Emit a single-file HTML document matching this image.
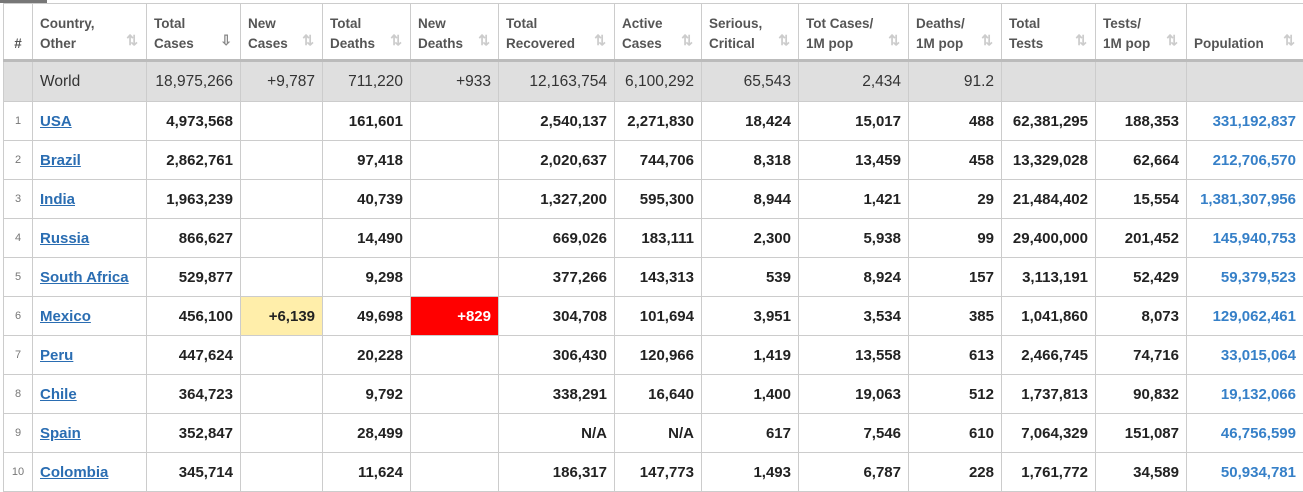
<!DOCTYPE html><html><head><style>
body{margin:0;width:1303px;height:489px;overflow:hidden;background:#fff;font-family:"Liberation Sans",Arial,sans-serif;position:relative}
.tab{position:absolute;left:0;top:0;width:47px;height:3px;background:#777}
table{position:absolute;left:3px;top:3px;border-collapse:collapse;table-layout:fixed;width:1300px}
td,th{border:1px solid #ccc;padding:0 7px;white-space:nowrap;overflow:hidden}
th{height:57px;box-sizing:border-box;text-align:left;font-size:13.5px;color:#555;font-weight:bold;line-height:20px;position:relative;border-bottom:3px solid #bbb;vertical-align:top;padding-top:10px}
th span{position:absolute;right:8px;bottom:9px;color:#ccc;font-size:14px}
td{height:38px;text-align:right;font-weight:bold;color:#222;font-size:15px}
tr.w td{background:#dfdfdf;font-weight:normal;color:#333;font-size:15.5px;height:39px}
td.n{font-size:11px;color:#777;font-weight:normal;text-align:center;padding:0}
td.c{text-align:left}
td.c a{color:#2a6db2;text-decoration:underline}
td.p{color:#3680c8}
</style></head><body><div class="tab"></div>
<table>
<colgroup><col style="width:29px"><col style="width:114px"><col style="width:94px"><col style="width:82px"><col style="width:88px"><col style="width:88px"><col style="width:116px"><col style="width:87px"><col style="width:97px"><col style="width:110px"><col style="width:93px"><col style="width:94px"><col style="width:91px"><col style="width:117px"></colgroup>
<tr><th style="text-align:center;padding:30px 0 0 0">#</th><th>Country,<br>Other<span>⇅</span></th><th>Total<br>Cases<span style="color:#888">⇩</span></th><th>New<br>Cases<span>⇅</span></th><th>Total<br>Deaths<span>⇅</span></th><th>New<br>Deaths<span>⇅</span></th><th>Total<br>Recovered<span>⇅</span></th><th>Active<br>Cases<span>⇅</span></th><th>Serious,<br>Critical<span>⇅</span></th><th>Tot Cases/<br>1M pop<span>⇅</span></th><th>Deaths/<br>1M pop<span>⇅</span></th><th>Total<br>Tests<span>⇅</span></th><th>Tests/<br>1M pop<span>⇅</span></th><th style="padding-top:30px">Population<span>⇅</span></th></tr>
<tr class="w"><td></td><td class="c">World</td><td>18,975,266</td><td>+9,787</td><td>711,220</td><td>+933</td><td>12,163,754</td><td>6,100,292</td><td>65,543</td><td>2,434</td><td>91.2</td><td></td><td></td><td></td></tr>
<tr><td class="n">1</td><td class="c"><a>USA</a></td><td>4,973,568</td><td></td><td>161,601</td><td></td><td>2,540,137</td><td>2,271,830</td><td>18,424</td><td>15,017</td><td>488</td><td>62,381,295</td><td>188,353</td><td class="p">331,192,837</td></tr>
<tr><td class="n">2</td><td class="c"><a>Brazil</a></td><td>2,862,761</td><td></td><td>97,418</td><td></td><td>2,020,637</td><td>744,706</td><td>8,318</td><td>13,459</td><td>458</td><td>13,329,028</td><td>62,664</td><td class="p">212,706,570</td></tr>
<tr><td class="n">3</td><td class="c"><a>India</a></td><td>1,963,239</td><td></td><td>40,739</td><td></td><td>1,327,200</td><td>595,300</td><td>8,944</td><td>1,421</td><td>29</td><td>21,484,402</td><td>15,554</td><td class="p">1,381,307,956</td></tr>
<tr><td class="n">4</td><td class="c"><a>Russia</a></td><td>866,627</td><td></td><td>14,490</td><td></td><td>669,026</td><td>183,111</td><td>2,300</td><td>5,938</td><td>99</td><td>29,400,000</td><td>201,452</td><td class="p">145,940,753</td></tr>
<tr><td class="n">5</td><td class="c"><a>South Africa</a></td><td>529,877</td><td></td><td>9,298</td><td></td><td>377,266</td><td>143,313</td><td>539</td><td>8,924</td><td>157</td><td>3,113,191</td><td>52,429</td><td class="p">59,379,523</td></tr>
<tr><td class="n">6</td><td class="c"><a>Mexico</a></td><td>456,100</td><td style="background:#ffeeaa">+6,139</td><td>49,698</td><td style="background:#ff0000;color:#fff">+829</td><td>304,708</td><td>101,694</td><td>3,951</td><td>3,534</td><td>385</td><td>1,041,860</td><td>8,073</td><td class="p">129,062,461</td></tr>
<tr><td class="n">7</td><td class="c"><a>Peru</a></td><td>447,624</td><td></td><td>20,228</td><td></td><td>306,430</td><td>120,966</td><td>1,419</td><td>13,558</td><td>613</td><td>2,466,745</td><td>74,716</td><td class="p">33,015,064</td></tr>
<tr><td class="n">8</td><td class="c"><a>Chile</a></td><td>364,723</td><td></td><td>9,792</td><td></td><td>338,291</td><td>16,640</td><td>1,400</td><td>19,063</td><td>512</td><td>1,737,813</td><td>90,832</td><td class="p">19,132,066</td></tr>
<tr><td class="n">9</td><td class="c"><a>Spain</a></td><td>352,847</td><td></td><td>28,499</td><td></td><td>N/A</td><td>N/A</td><td>617</td><td>7,546</td><td>610</td><td>7,064,329</td><td>151,087</td><td class="p">46,756,599</td></tr>
<tr><td class="n">10</td><td class="c"><a>Colombia</a></td><td>345,714</td><td></td><td>11,624</td><td></td><td>186,317</td><td>147,773</td><td>1,493</td><td>6,787</td><td>228</td><td>1,761,772</td><td>34,589</td><td class="p">50,934,781</td></tr>
</table></body></html>
